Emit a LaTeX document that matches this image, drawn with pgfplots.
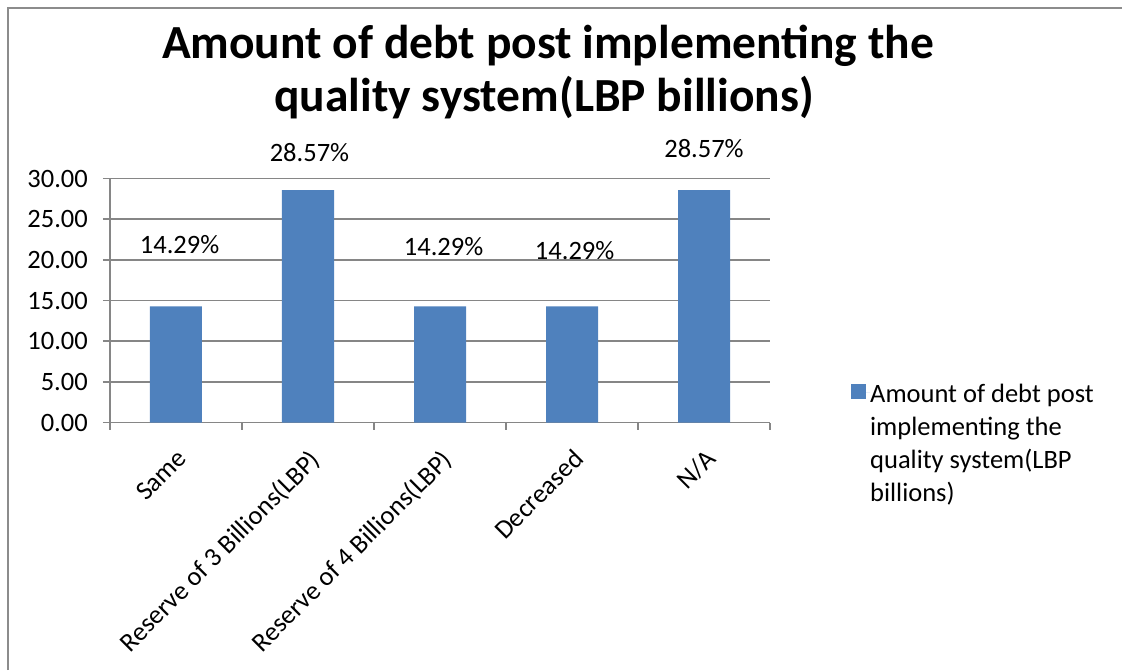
\documentclass[border=0pt]{standalone}
\usepackage{pgfplots}
\pgfplotsset{compat=1.18}
\usepackage{fontspec}
\setmainfont{Carlito}
\definecolor{barblue}{HTML}{4F81BD}
\definecolor{gridgray}{HTML}{868686}
\definecolor{framegray}{HTML}{8C8C8C}
\newcommand{\lblfont}{\fontsize{26.5}{33}\selectfont}
\newcommand{\ttlfont}{\fontsize{47.5}{50}\selectfont\bfseries}
\begin{document}
\begin{tikzpicture}[x=1pt,y=1pt]
\begin{axis}[
  scale only axis, width=660pt, height=244pt,
  xmin=-0.5, xmax=4.5, ymin=0, ymax=30,
  axis x line*=bottom, axis y line*=left,
  axis line style={draw=gridgray, line width=1.8pt},
  ymajorgrids, grid style={draw=gridgray, line width=1.8pt},
  ytick={0,5,...,30},
  xtick={-0.5,0.5,1.5,2.5,3.5,4.5}, xticklabels={},
  tick align=outside, major tick length=7pt,
  tick style={draw=gridgray, line width=1.8pt},
  /pgf/number format/assume math mode=true,
  /pgf/number format/.cd, fixed, fixed zerofill, precision=2, /pgfplots/.cd,
  yticklabel style={font=\lblfont, text=black, inner sep=0pt, xshift=-15pt},
  extra x ticks={0,1,2,3,4},
  extra x tick labels={Same, Reserve of 3 Billions(LBP), Reserve of 4 Billions(LBP), Decreased, N/A},
  extra x tick style={major tick length=0pt,
    xticklabel style={font=\lblfont, text=black, rotate=45, anchor=north east, inner sep=0pt, xshift=-17.7pt, yshift=-17.7pt}},
  clip=false,
  legend style={at={(1.1227,0.176)}, anchor=north west, draw=none, fill=none,
    inner sep=0pt, column sep=0pt, nodes={inner sep=0pt, font=\lblfont, text=black}},
  legend cell align=left,
]
\addplot[ybar, bar width=52pt, fill=barblue, draw=none,
  legend image code/.code={\fill[barblue] (0pt,-6.5pt) rectangle (14.5pt,8pt); \path (0pt,0pt) -- (19pt,0pt);}]
  coordinates {(0,14.29) (1,28.57) (2,14.29) (3,14.29) (4,28.57)};
\addlegendentry{\begin{tabular}[t]{@{}l@{}}Amount of debt post\\implementing the\\quality system(LBP\\billions)\end{tabular}}
\addplot[draw=none, mark=none, forget plot, nodes near coords, point meta=explicit symbolic,
  every node near coord/.style={anchor=center, font=\lblfont, text=black, inner sep=0pt}]
  coordinates {(0.027,21.9) [14.29\%] (1.011,33.2) [28.57\%] (2.027,21.6) [14.29\%] (3.02,21.1) [14.29\%] (4.0,33.7) [28.57\%]};
\coordinate (AxSW) at (rel axis cs:0,0);
\end{axis}
\pgfresetboundingbox
\begin{scope}[shift={(AxSW)}, xshift=-110pt, yshift=-247.5pt]
\path[use as bounding box] (0,0) rectangle (1122,670);
\draw[framegray, line width=2.5pt] (8,0) -- (8,662) -- (1122,662);
\node[anchor=base, font=\ttlfont, inner sep=0pt] at (548,611) {Amount of debt post implementing the};
\node[anchor=base, font=\ttlfont, inner sep=0pt] at (544,558) {quality system(LBP billions)};
\end{scope}
\end{tikzpicture}
\end{document}
